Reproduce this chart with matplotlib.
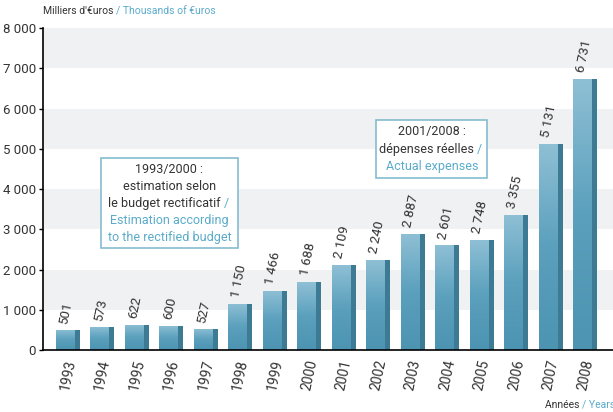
import numpy as np
import matplotlib
matplotlib.use("Agg")
import matplotlib.pyplot as plt
from matplotlib.patches import Rectangle

years = ["1993", "1994", "1995", "1996", "1997", "1998", "1999", "2000",
         "2001", "2002", "2003", "2004", "2005", "2006", "2007", "2008"]
values = [501, 573, 622, 600, 527, 1150, 1466, 1688,
          2109, 2240, 2887, 2601, 2748, 3355, 5131, 6731]
yticks = [0, 1000, 2000, 3000, 4000, 5000, 6000, 7000, 8000]

BLUE_TXT = "#5aabca"
DARK = "#333333"
plt.rcParams['font.family'] = ['Roboto', 'DejaVu Sans']

def fmt(v):
    return f"{v:,}".replace(",", " ")

fig = plt.figure(figsize=(6.13, 4.12), dpi=100)
ax = fig.add_axes([0.070, 0.150, 0.930, 0.782])

x = np.arange(len(years))

# alternating background bands
for lo in range(1000, 8000, 2000):
    ax.axhspan(lo, lo + 1000, color="#f0f1f3", zorder=0, lw=0)

grad = np.linspace(0, 1, 256).reshape(-1, 1)
cmap = matplotlib.colors.LinearSegmentedColormap.from_list(
    "bar", ["#8fc0d5", "#5ba0bd", "#4c94b2"])
front_w, side_w = 0.55, 0.15
for xi, v in zip(x, values):
    x0 = xi - (front_w + side_w) / 2
    rect = Rectangle((x0, 0), front_w, v, fc="none", ec="none", zorder=2)
    ax.add_patch(rect)
    im = ax.imshow(grad, cmap=cmap, aspect="auto", origin="upper",
                   extent=[x0, x0 + front_w, 0, v], zorder=2)
    im.set_clip_path(rect)
    ax.add_patch(Rectangle((x0 + front_w, 0), side_w, v, fc="#3d7b95",
                           ec="none", zorder=2))
    ax.text(xi - 0.05, v + 130, fmt(v), rotation=78, ha="center", va="bottom",
            fontsize=9.5, color=DARK, zorder=3)

ax.set_xlim(-0.72, 15.8)
ax.set_ylim(0, 8000)
ax.set_yticks(yticks)
ax.set_yticklabels([fmt(t) for t in yticks], fontsize=9.5, color=DARK)
ax.set_xticks(x)
ax.set_xticklabels(years, rotation=78, fontsize=10, color=DARK,
                   ha="center", va="top")
ax.tick_params(axis="x", length=0, pad=6)
ax.tick_params(axis="y", length=3, width=1, direction="out", pad=2)
for s in ["top", "right"]:
    ax.spines[s].set_visible(False)
ax.spines["left"].set_linewidth(1.2)
ax.spines["bottom"].set_linewidth(1.2)

# axis titles
t = fig.text(0.070, 0.960, "Milliers d'€uros ", fontsize=7.5, color=DARK,
             ha="left", va="bottom")
fig.canvas.draw()
ax.annotate("/ Thousands of €uros", xy=(1, 0), xycoords=t, fontsize=7.5,
            color=BLUE_TXT, ha="left", va="bottom")
t2 = fig.text(0.889, 0.005, "Années ", fontsize=7.5, color=DARK,
              ha="left", va="bottom")
ax.annotate("/ Years", xy=(1, 0), xycoords=t2, fontsize=7.5,
            color=BLUE_TXT, ha="left", va="bottom")

def box(x0, x1, y0, y1, lines):
    ax.add_patch(Rectangle((x0, y0), x1 - x0, y1 - y0, fc="white",
                           ec="#86bccf", lw=1.2, zorder=4))
    cx = (x0 + x1) / 2
    n = len(lines)
    step = (y1 - y0) / (n + 0.3)
    for i, (black, blue) in enumerate(lines):
        yy = y1 - step * (i + 0.65)
        if black and blue:
            tt = ax.text(cx - 0.1, yy, black, ha="center", va="center",
                         fontsize=9, color=DARK, zorder=5)
            ax.annotate(blue, xy=(1, 0.5), xycoords=tt, ha="left",
                        va="center", fontsize=9, color=BLUE_TXT, zorder=5)
        elif black:
            ax.text(cx, yy, black, ha="center", va="center", fontsize=9,
                    color=DARK, zorder=5)
        else:
            ax.text(cx, yy, blue, ha="center", va="center", fontsize=9,
                    color=BLUE_TXT, zorder=5)

box(0.96, 4.93, 2534, 4770,
    [("1993/2000 :", None), ("estimation selon", None),
     ("le budget rectificatif ", "/"), (None, "Estimation according"),
     (None, "to the rectified budget")])
box(8.94, 12.16, 4273, 5714,
    [("2001/2008 :", None), ("dépenses réelles ", "/"),
     (None, "Actual expenses")])

fig.savefig("out.png", dpi=100)
